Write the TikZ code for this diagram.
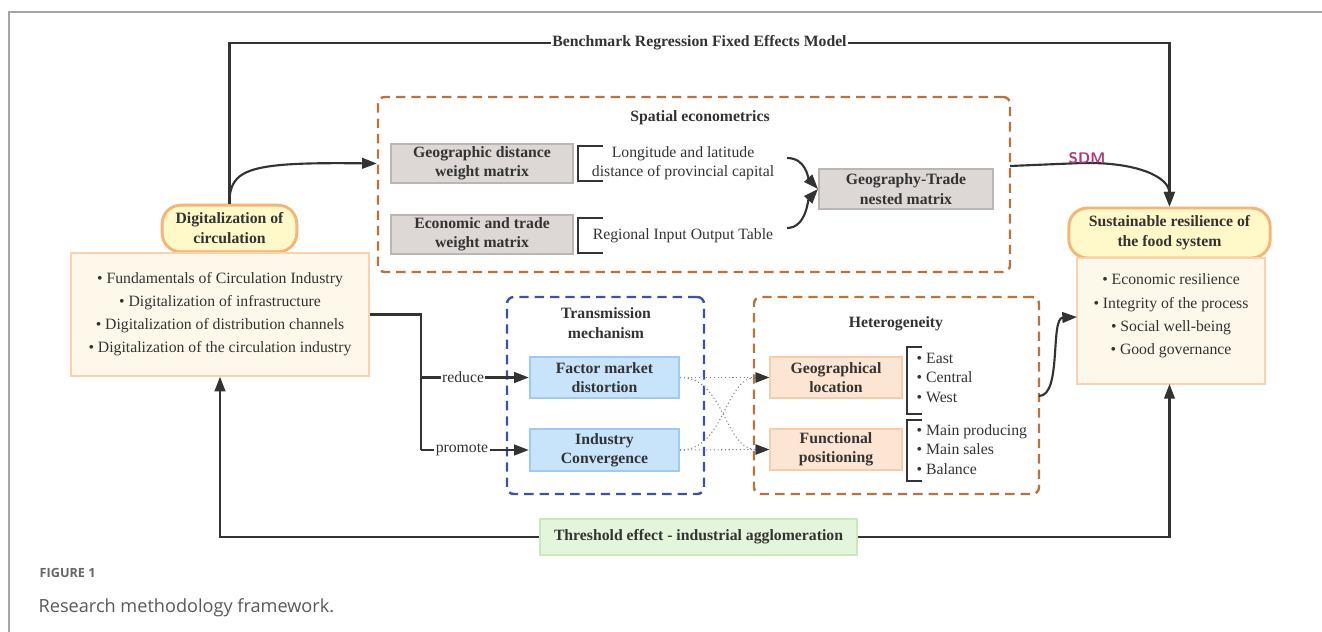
\documentclass[tikz,border=0pt]{standalone}
\usepackage{fontspec}
\setmainfont{Liberation Serif}
\newfontfamily\capfont{Open Sans}
\usetikzlibrary{arrows.meta, positioning, shapes.geometric}
\definecolor{txt}{HTML}{333333}
\definecolor{pillfill}{HTML}{FFF8C8}
\definecolor{pilldraw}{HTML}{F5B574}
\definecolor{listfill}{HTML}{FDF8EA}
\definecolor{listdraw}{HTML}{FAD3AE}
\definecolor{matfill}{HTML}{DDD7D5}
\definecolor{matdraw}{HTML}{BDB5B2}
\definecolor{mechfill}{HTML}{C7E4FB}
\definecolor{mechdraw}{HTML}{9DCBF3}
\definecolor{hetfill}{HTML}{FCE5D2}
\definecolor{hetdraw}{HTML}{F8CCA6}
\definecolor{thrfill}{HTML}{E3F5DA}
\definecolor{thrdraw}{HTML}{C9E9B8}
\definecolor{brownd}{HTML}{B8743A}
\definecolor{blued}{HTML}{3C52A8}
\definecolor{sdm}{HTML}{B0397A}
\definecolor{frame}{HTML}{A4A4AC}

\begin{document}
\begin{tikzpicture}[x=0.75pt, y=-0.75pt, text=txt,
    font=\fontsize{11.8}{14.5}\selectfont,
    box/.style={rectangle, draw, line width=1.5pt, inner sep=0pt, align=center,
                font=\fontsize{11.8}{14.5}\selectfont\bfseries},
    pill/.style={rectangle, rounded corners=14pt, draw=pilldraw, fill=pillfill,
                line width=2.2pt, inner sep=0pt, align=center,
                font=\fontsize{11.8}{15}\selectfont\bfseries},
    listbox/.style={rectangle, draw=listdraw, fill=listfill, line width=1.3pt,
                inner sep=0pt, align=center, font=\fontsize{11.8}{17.3}\selectfont},
    group/.style={rectangle, rounded corners=5pt, dash pattern=on 7pt off 4.5pt,
                line width=1.8pt, inner sep=0pt},
    line/.style={draw=txt, line width=1.6pt},
    conn/.style={line, -{Triangle[length=11pt, width=8pt]}},
    dotc/.style={draw=gray, dotted, line width=0.8pt,
                -{Triangle[length=10pt, width=7.5pt, color=txt]}}]

    \useasboundingbox (0,0) rectangle (1322,632);

    % Page frame and caption
    \draw[frame, line width=0.9pt] (1322,12) -- (9,12) -- (9,632);
    \node[anchor=west, text=black!60, font=\capfont\fontsize{9.5}{11}\selectfont\bfseries]
        (figno) at (35,573) {FIGURE 1};
    \node[anchor=west, text=black!65, font=\capfont\fontsize{13.6}{16}\selectfont]
        (caption) at (34,608) {Research methodology framework.};

    % Input side
    \node[pill, minimum width=101pt, minimum height=35pt] (digit) at (229.5,228.5)
        {Digitalization of\\circulation};
    \node[listbox, minimum width=223.5pt, minimum height=92pt] (diglist) at (220,314.5)
        {\textbullet\ Fundamentals of Circulation Industry\\
         \textbullet\ Digitalization of infrastructure\\
         \textbullet\ Digitalization of distribution channels\\
         \textbullet\ Digitalization of the circulation industry};

    % Output side
    \node[pill, minimum width=151pt, minimum height=37.5pt] (sustain) at (1169.5,233)
        {Sustainable resilience of\\the food system};
    \node[listbox, minimum width=141pt, minimum height=94.5pt] (suslist) at (1171,321)
        {\textbullet\ Economic resilience\\
         \textbullet\ Integrity of the process\\
         \textbullet\ Social well-being\\
         \textbullet\ Good governance\\[-7pt]\mbox{}};

    % Spatial econometrics
    \node[group, draw=brownd, minimum width=474pt, minimum height=131.25pt] (spatial) at (694,184.5) {};
    \node[font=\fontsize{11.8}{14.5}\selectfont\bfseries] (spattitle) at (700,118) {Spatial econometrics};
    \node[box, draw=matdraw, fill=matfill, minimum width=136.5pt, minimum height=29pt] (geow) at (482,163.5)
        {Geographic distance\\weight matrix};
    \node[box, draw=matdraw, fill=matfill, minimum width=136.5pt, minimum height=29pt] (ecow) at (482,234.5)
        {Economic and trade\\weight matrix};
    \node[align=center] (lonlat) at (683,163.5) {Longitude and latitude\\distance of provincial capital};
    \node (iotab) at (683,236) {Regional Input Output Table};
    \node[box, draw=matdraw, fill=matfill, minimum width=130.5pt, minimum height=30pt] (nested) at (906,189)
        {Geography-Trade\\nested matrix};
    \draw[line] (603,146) -| (578,181) -- (603,181);
    \draw[line] (603,218) -| (578,253) -- (603,253);
    \coordinate (lonend) at (787,158);
    \coordinate (ioend) at (787,228);
    \draw[conn] (lonend) .. controls (806,158) and (808,178) .. (nested.west);
    \draw[conn] (ioend) .. controls (806,228) and (808,200) .. (nested.west);

    % Transmission mechanism
    \node[group, draw=blued, minimum width=147.75pt, minimum height=147.75pt] (trans) at (605.5,395.5) {};
    \node[align=center, font=\fontsize{11.8}{14.5}\selectfont\bfseries] (transtitle) at (606,323)
        {Transmission\\mechanism};
    \node[box, draw=mechdraw, fill=mechfill, minimum width=112pt, minimum height=31pt] (factor) at (604.5,377.5)
        {Factor market\\distortion};
    \node[box, draw=mechdraw, fill=mechfill, minimum width=112pt, minimum height=31pt] (indconv) at (604.5,450)
        {Industry\\Convergence};

    % Heterogeneity
    \node[group, draw=brownd, minimum width=213.75pt, minimum height=147.75pt] (hetero) at (896.5,395.5) {};
    \node[font=\fontsize{11.8}{14.5}\selectfont\bfseries] (hettitle) at (896,324) {Heterogeneity};
    \node[box, draw=hetdraw, fill=hetfill, minimum width=99pt, minimum height=31pt] (geoloc) at (836,377.5)
        {Geographical\\location};
    \node[box, draw=hetdraw, fill=hetfill, minimum width=99pt, minimum height=31pt] (funcpos) at (836,449.5)
        {Functional\\positioning};
    \draw[line] (922,347) -| (907,414) -- (922,414);
    \draw[line] (922,420) -| (907,481) -- (922,481);
    \node[anchor=west, align=left, font=\fontsize{11.8}{14.6}\selectfont] (regions) at (912,377.5)
        {\textbullet\ East\\\textbullet\ Central\\\textbullet\ West};
    \node[anchor=west, align=left, font=\fontsize{11.8}{14.6}\selectfont] (funcs) at (912,449.5)
        {\textbullet\ Main producing\\\textbullet\ Main sales\\\textbullet\ Balance};

    % Threshold
    \node[box, draw=thrdraw, fill=thrfill, minimum width=238pt, minimum height=27pt] (thresh) at (698.5,537)
        {Threshold effect - industrial agglomeration};

    % Arrows
    \coordinate (tl) at (229.5,43);
    \coordinate (tr) at (1169.5,43);
    \draw[conn] (digit.north) -- (tl) -- node[fill=white, inner sep=1pt, font=\fontsize{11.8}{14.5}\selectfont\bfseries]
        {Benchmark Regression Fixed Effects Model} (tr) -- (sustain.north);
    \draw[conn] (digit.north) .. controls (229,168) and (250,162) .. (spatial.west |- geow.west);
    \coordinate (sdmout) at (1010,166);
    \draw[conn] (sdmout) -- (1082,163) .. controls (1140,162) and (1169,178) .. (sustain.north);
    \node[text=sdm, font=\sffamily\fontsize{11.5}{12}\selectfont\bfseries] (sdmlab) at (1087,158) {SDM};

    \coordinate (split) at (421,314.5);
    \coordinate (rbr) at (421,377.5);
    \coordinate (pbr) at (421,450);
    \draw[line] (diglist.east) -- (split) -- (pbr);
    \draw[conn] (rbr) -- node[pos=0.39, fill=white, inner sep=1pt] {reduce} (factor.west);
    \draw[conn] (pbr) -- node[pos=0.38, fill=white, inner sep=1pt] {promote} (indconv.west);

    \draw[dotc] (factor.east) -- (geoloc.west);
    \draw[dotc] (indconv.east) -- (funcpos.west);
    \draw[dotc] (factor.east) to[out=0, in=180] (funcpos.west);
    \draw[dotc] (indconv.east) to[out=0, in=180] (geoloc.west);

    \coordinate (hetout) at (1039,396);
    \coordinate (susin) at (1077,317);
    \draw[conn] (hetout) .. controls (1062,396) and (1050,318) .. (susin);

    \draw[conn] (thresh.west) -| (diglist.south);
    \draw[conn] (thresh.east) -| (1169.5,384);
\end{tikzpicture}
\end{document}
